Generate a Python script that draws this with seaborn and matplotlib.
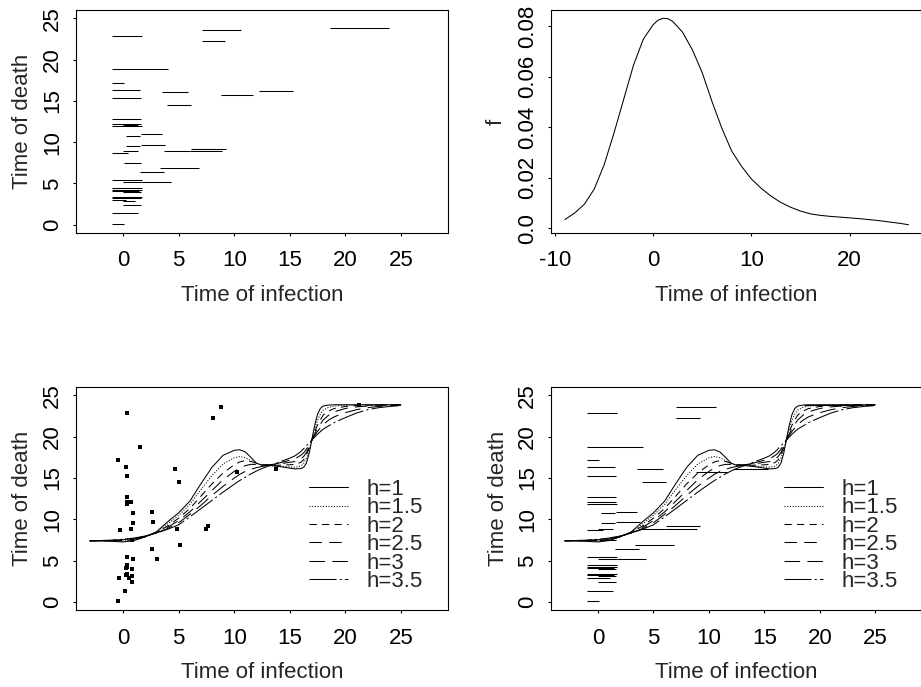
import numpy as np
import pandas as pd
import matplotlib
matplotlib.use("Agg")
import matplotlib.pyplot as plt
import seaborn as sns

# interval censored infection times (left, right) and time of death
inf_left = [-0.96, 7.07, 7.07, -0.96, -0.96, -0.96, 3.54, 8.81, 12.2, -0.96, 3.93,
            -0.96, -0.96, 0.03, -0.96, 0.24, 1.62, 0.30, 1.62, -0.96, 0.03, 3.66,
            6.12, 6.03, 0.06, 3.36, 1.50, -0.96, 0.03, 1.74, -0.96, -0.96, -0.96,
            0.03, -0.96, -0.96, 0.03, -0.96, 0.03, 0.03, -0.96, -0.96, 18.6]
inf_right = [1.68, 10.61, 9.20, 4.08, 0.12, 1.50, 5.82, 11.66, 15.3, 1.59, 6.12,
             1.59, 1.59, 1.38, 1.68, 1.56, 3.54, 1.53, 3.78, 0.42, 1.38, 6.03,
             9.23, 8.93, 1.62, 6.86, 3.66, 1.68, 1.68, 4.32, 1.74, 1.68, 1.45,
             1.59, 1.68, 1.42, 1.59, 0.30, 1.10, 1.59, 1.32, 0.12, 23.9]
death = [22.8, 23.6, 22.2, 18.8, 17.2, 16.3, 16.1, 15.7, 16.15, 15.3, 14.5,
         12.75, 12.15, 12.1, 11.9, 10.75, 10.95, 9.58, 9.7, 8.7, 8.9, 8.9,
         9.2, 8.9, 7.5, 6.85, 6.4, 5.47, 5.23, 5.23, 4.47, 4.26, 4.14,
         3.99, 3.38, 3.26, 3.22, 2.95, 2.9, 2.38, 1.41, 0.12, 23.8]

# estimated density of infection time
dens_x = [-9, -8, -7, -6, -5, -4, -3, -2, -1, 0, 0.5, 1, 1.5, 2, 3, 4, 5, 6, 7, 8,
          9, 10, 11, 12, 13, 14, 15, 16, 17, 18, 19, 20, 21, 22, 23, 24, 25, 26]
dens_f = [0.0034, 0.0060, 0.0095, 0.0155, 0.0250, 0.0375, 0.0510, 0.0645, 0.0748,
          0.0805, 0.0823, 0.0830, 0.0829, 0.0818, 0.0775, 0.0705, 0.0615, 0.0500,
          0.0395, 0.0305, 0.0245, 0.0195, 0.0158, 0.0127, 0.0102, 0.0083, 0.0068,
          0.0057, 0.0051, 0.0047, 0.0044, 0.0041, 0.0038, 0.0034, 0.0030, 0.0025,
          0.0020, 0.0014]

# smoothed regression curves for bandwidths h
curve_x = [-3, -2, -1, 0, 1, 2, 3, 4, 5, 6, 7, 8, 9, 10,
           10.5, 11, 11.5, 12, 12.5, 13,
           14, 15, 15.5, 16,
           16.25, 16.5, 16.75, 17, 17.25, 17.5, 17.75, 18,
           18.5, 19, 20, 21, 22, 23, 24, 25]
curve_h1 = [7.42, 7.40, 7.35, 7.28, 7.45, 7.9, 8.5, 9.7, 10.8, 12.2, 14.3, 16.3, 17.75, 18.35,
            18.42, 18.15, 17.5, 16.8, 16.55, 16.55,
            16.4, 16.2, 16.1, 16.15,
            16.3, 16.8, 18.0, 19.7, 21.4, 22.7, 23.4, 23.7,
            23.82, 23.85, 23.85, 23.85, 23.85, 23.85, 23.85, 23.85]
curve_h15 = [7.42, 7.42, 7.40, 7.38, 7.5, 7.9, 8.45, 9.45, 10.5, 11.8, 13.6, 15.3, 16.7, 17.45,
             17.6, 17.45, 17.1, 16.75, 16.55, 16.5,
             16.45, 16.35, 16.3, 16.45,
             16.75, 17.4, 18.4, 19.7, 21.0, 22.0, 22.7, 23.2,
             23.55, 23.7, 23.8, 23.85, 23.85, 23.85, 23.85, 23.85]
curve_h2 = [7.42, 7.43, 7.43, 7.45, 7.58, 7.9, 8.4, 9.2, 10.15, 11.3, 12.8, 14.3, 15.6, 16.6,
            16.95, 17.1, 17.0, 16.8, 16.6, 16.55,
            16.55, 16.6, 16.65, 16.9,
            17.2, 17.8, 18.7, 19.65, 20.6, 21.4, 22.0, 22.6,
            23.1, 23.4, 23.65, 23.75, 23.8, 23.82, 23.85, 23.85]
curve_h25 = [7.42, 7.44, 7.46, 7.5, 7.63, 7.93, 8.38, 9.05, 9.85, 10.9, 12.2, 13.5, 14.8, 15.8,
             16.2, 16.5, 16.65, 16.65, 16.6, 16.6,
             16.7, 16.9, 17.0, 17.3,
             17.6, 18.1, 18.8, 19.6, 20.35, 21.0, 21.5, 22.0,
             22.6, 23.0, 23.4, 23.6, 23.7, 23.8, 23.82, 23.85]
curve_h3 = [7.42, 7.45, 7.48, 7.55, 7.7, 7.96, 8.36, 8.9, 9.6, 10.6, 11.7, 12.9, 14.0, 15.0,
            15.45, 15.8, 16.05, 16.25, 16.4, 16.5,
            16.8, 17.15, 17.35, 17.75,
            18.05, 18.5, 19.0, 19.6, 20.15, 20.65, 21.05, 21.45,
            22.0, 22.4, 22.9, 23.25, 23.5, 23.65, 23.75, 23.8]
curve_h35 = [7.42, 7.45, 7.5, 7.6, 7.75, 8.0, 8.35, 8.8, 9.35, 10.3, 11.3, 12.3, 13.3, 14.25,
             14.7, 15.1, 15.5, 15.85, 16.15, 16.4,
             16.9, 17.4, 17.7, 18.2,
             18.55, 18.9, 19.25, 19.6, 19.95, 20.3, 20.6, 20.9,
             21.3, 21.7, 22.3, 22.85, 23.25, 23.5, 23.65, 23.75]

h_labels = ["h=1", "h=1.5", "h=2", "h=2.5", "h=3", "h=3.5"]
curves = [curve_h1, curve_h15, curve_h2, curve_h25, curve_h3, curve_h35]
styles = ["-", (0, (1, 1.6)), (0, (7, 5)), (0, (12, 7)), (0, (15, 7)), (0, (26, 3, 2, 3))]

ticks25 = [0, 5, 10, 15, 20, 25]

sns.set_style("ticks")
plt.rcParams["font.family"] = ["Liberation Sans", "DejaVu Sans"]
plt.rcParams["font.size"] = 16
plt.rcParams["axes.linewidth"] = 0.8
plt.rcParams["axes.unicode_minus"] = False

fig = plt.figure(figsize=(9.21, 6.87), dpi=100)
ax_tl = fig.add_axes([0.0825, 0.6608, 0.4039, 0.3246])
ax_tr = fig.add_axes([0.5983, 0.6608, 0.4030, 0.3246])
ax_bl = fig.add_axes([0.0825, 0.1114, 0.4039, 0.3253])
ax_br = fig.add_axes([0.5983, 0.1114, 0.4030, 0.3253])

mid = [(a + b) / 2 for a, b in zip(inf_left, inf_right)]


def style_axes(ax, right=True):
    for sp in ax.spines.values():
        sp.set_visible(True)
        sp.set_color("black")
        sp.set_linewidth(0.8)
    ax.spines["right"].set_visible(right)
    ax.tick_params(axis="both", direction="out", length=2.5, width=0.8,
                   colors="black", labelsize=16)
    ax.tick_params(axis="x", pad=10)
    ax.tick_params(axis="y", pad=7, labelrotation=90)
    for lab in ax.get_yticklabels():
        lab.set_va("center")
    ax.grid(False)


def draw_curves(ax):
    for lab, vals, ls in zip(h_labels, curves, styles):
        sns.lineplot(x=curve_x, y=vals, ax=ax, color="black", lw=0.75,
                     linestyle=ls, label=lab, sort=False)
    ax.legend(loc="upper left", bbox_to_anchor=(16.75, 14.9),
              bbox_transform=ax.transData, frameon=False, fontsize=16,
              handlelength=1.75, handletextpad=0.85, labelspacing=-0.115,
              borderpad=0, borderaxespad=0)


def setup_death_axes(ax, right=True):
    ax.set_xlim(-4.24, 29.24)
    ax.set_ylim(-1, 26)
    ax.set_xticks(ticks25)
    ax.set_yticks(ticks25)
    ax.set_xlabel("Time of infection", fontsize=16, labelpad=9.5)
    ax.set_ylabel("Time of death", fontsize=16, labelpad=6)
    style_axes(ax, right)


# top left: censoring intervals
ax_tl.hlines(death, inf_left, inf_right, color="black", lw=0.75)
setup_death_axes(ax_tl)

# top right: density
sns.lineplot(x=dens_x, y=dens_f, ax=ax_tr, color="black", lw=0.75)
ax_tr.set_xlim(-10.4, 27.4)
ax_tr.set_ylim(-0.0019, 0.0863)
ax_tr.set_xticks([-10, 0, 10, 20])
ax_tr.set_yticks([0, 0.02, 0.04, 0.06, 0.08])
ax_tr.set_yticklabels(["0.0", "0.02", "0.04", "0.06", "0.08"])
ax_tr.set_xlabel("Time of infection", fontsize=16, labelpad=9.5)
ax_tr.set_ylabel("f", fontsize=16, labelpad=7)
style_axes(ax_tr, right=False)

# bottom left: midpoints + curves
sns.scatterplot(x=mid, y=death, ax=ax_bl, color="black", marker="s", s=5,
                linewidth=0)
draw_curves(ax_bl)
setup_death_axes(ax_bl)

# bottom right: intervals + curves
ax_br.hlines(death, inf_left, inf_right, color="black", lw=0.75)
draw_curves(ax_br)
setup_death_axes(ax_br, right=False)

fig.savefig("out.png", dpi=100)
